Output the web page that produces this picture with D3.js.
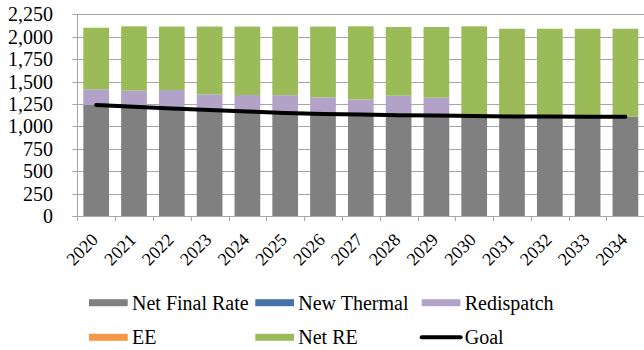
<!DOCTYPE html>
<html>
<head>
<meta charset="utf-8">
<script src="https://d3js.org/d3.v7.min.js"></script>
</head>
<body style="margin:0">
<div id="chart"></div>
<script>
const years = ["2020", "2021", "2022", "2023", "2024", "2025", "2026", "2027", "2028", "2029", "2030", "2031", "2032", "2033", "2034"];
const netFinalRate = [1238, 1218, 1205, 1183, 1165, 1150, 1138, 1130, 1124, 1119, 1112, 1108, 1106, 1105, 1108];
const newThermal = [0, 0, 0, 0, 0, 0, 0, 0, 0, 0, 0, 0, 0, 0, 0];
const redispatch = [175, 180, 201, 174, 185, 198, 186, 171, 218, 201, 0, 0, 0, 0, 0];
const ee = [0, 0, 0, 0, 0, 0, 0, 0, 0, 0, 0, 0, 0, 0, 0];
const netRE = [687, 718, 707, 756, 763, 765, 789, 815, 766, 788, 1004, 981, 983, 984, 981];
const goal = [1238, 1218, 1200, 1183, 1166, 1150, 1139, 1131, 1125, 1120, 1115, 1111, 1109, 1107, 1106];
const yTicks = [0, 250, 500, 750, 1000, 1250, 1500, 1750, 2000, 2250];

const seriesNames = ["Net Final Rate", "New Thermal", "Redispatch", "EE", "Net RE"];
const seriesValues = [netFinalRate, newThermal, redispatch, ee, netRE];
const colors = ["#808080", "#4572A7", "#B3A2C7", "#F79646", "#9BBB59"];

function drawChart() {
    const W = 644, H = 350;
    const pLeft = 77.3, pRight = 644.3, pTop = 14.3, pBottom = 216;
    const font = "Liberation Serif";

    const svg = d3.select("#chart")
        .append("svg")
        .attr("width", W)
        .attr("height", H)
        .attr("font-family", font);

    const x = d3.scaleBand()
        .domain(years)
        .range([pLeft, pRight])
        .paddingInner(0.32)
        .paddingOuter(0.16);
    const step = x.step();

    const y = d3.scaleLinear()
        .domain([0, 2250])
        .range([pBottom, pTop]);

    // gridlines with short ticks on the left
    svg.append("g")
        .selectAll("line")
        .data(yTicks)
        .enter().append("line")
        .attr("x1", pLeft - 5)
        .attr("x2", pRight)
        .attr("y1", d => Math.round(y(d)) + 0.5)
        .attr("y2", d => Math.round(y(d)) + 0.5)
        .attr("stroke", "#a6a6a6");

    svg.append("g")
        .selectAll("text")
        .data(yTicks)
        .enter().append("text")
        .attr("x", 53)
        .attr("y", d => y(d) + 7)
        .attr("text-anchor", "end")
        .attr("font-family", font)
        .attr("font-size", 20)
        .text(d => d3.format(",")(d));

    svg.append("line")
        .attr("x1", Math.round(pLeft) + 0.5).attr("x2", Math.round(pLeft) + 0.5)
        .attr("y1", pTop).attr("y2", pBottom)
        .attr("stroke", "#a6a6a6");

    // stacked bars
    const table = years.map((yr, i) => {
        const row = {year: yr};
        seriesNames.forEach((s, k) => row[s] = seriesValues[k][i]);
        return row;
    });
    const stacked = d3.stack().keys(seriesNames)(table);

    svg.append("g")
        .selectAll("g")
        .data(stacked)
        .enter().append("g")
        .attr("fill", (d, i) => colors[i])
        .selectAll("rect")
        .data(d => d)
        .enter().append("rect")
        .attr("x", d => x(d.data.year))
        .attr("y", d => y(d[1]))
        .attr("width", x.bandwidth())
        .attr("height", d => y(d[0]) - y(d[1]));

    // x axis
    svg.append("line")
        .attr("x1", pLeft).attr("x2", pRight)
        .attr("y1", pBottom + 0.5).attr("y2", pBottom + 0.5)
        .attr("stroke", "#a6a6a6");

    svg.append("g")
        .selectAll("line")
        .data(d3.range(years.length + 1))
        .enter().append("line")
        .attr("x1", i => Math.round(pLeft + i * step) + 0.5)
        .attr("x2", i => Math.round(pLeft + i * step) + 0.5)
        .attr("y1", pBottom)
        .attr("y2", pBottom + 5)
        .attr("stroke", "#a6a6a6");

    svg.append("g")
        .selectAll("text")
        .data(years)
        .enter().append("text")
        .attr("transform", d => `translate(${x(d) + x.bandwidth() / 2 + 3},${pBottom + 25}) rotate(-45)`)
        .attr("text-anchor", "end")
        .attr("font-family", font)
        .attr("font-size", 18)
        .text(d => d);

    // goal line
    const line = d3.line()
        .x((d, i) => x(years[i]) + x.bandwidth() / 2)
        .y(d => y(d));
    svg.append("path")
        .datum(goal)
        .attr("fill", "none")
        .attr("stroke", "#000")
        .attr("stroke-width", 4)
        .attr("stroke-linecap", "round")
        .attr("d", line);

    // legend
    const legendItems = seriesNames.map((s, i) => ({name: s, color: colors[i], type: "rect"}));
    legendItems.push({name: "Goal", color: "#000", type: "line"});
    const colX = [89, 255.3, 421.7];
    const rowY = [302.7, 337.3];

    const legend = svg.append("g")
        .selectAll("g")
        .data(legendItems)
        .enter().append("g")
        .attr("transform", (d, i) => `translate(${colX[i % 3]},${rowY[Math.floor(i / 3)]})`);

    legend.filter(d => d.type === "rect").append("rect")
        .attr("x", 0)
        .attr("y", -3.5)
        .attr("width", 38.7)
        .attr("height", 7)
        .attr("fill", d => d.color);

    legend.filter(d => d.type === "line").append("line")
        .attr("x1", 0).attr("x2", 39)
        .attr("y1", 0).attr("y2", 0)
        .attr("stroke", "#000")
        .attr("stroke-width", 4)
        .attr("stroke-linecap", "round");

    legend.append("text")
        .attr("x", 43)
        .attr("y", 7)
        .attr("font-family", font)
        .attr("font-size", 20)
        .text(d => d.name);
}

drawChart();
</script>
</body>
</html>
